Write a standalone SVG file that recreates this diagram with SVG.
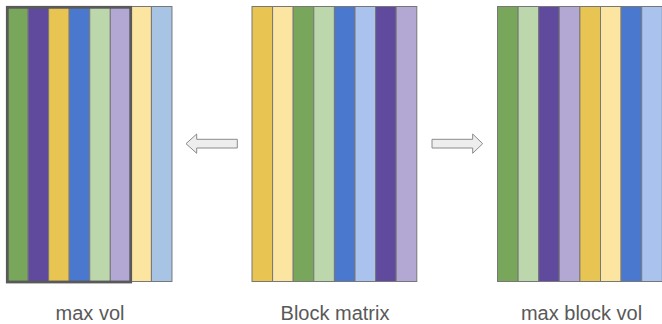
<svg xmlns="http://www.w3.org/2000/svg" width="662" height="324" viewBox="0 0 662 324">
<style>
.c{stroke:#777;stroke-width:1}
.g{fill:#78a65b}.lg{fill:#bdd7ac}.p{fill:#604a9e}.lp{fill:#b3a7d4}
.y{fill:#e8c452}.ly{fill:#fbe5a0}.b{fill:#4b78cf}.lb{fill:#aac2ee}.lb2{fill:#a8c4e4}
.arr{fill:#eeeeee;stroke:#8a8a8a;stroke-width:1}
.lbl{font-family:"Liberation Sans",Arial,sans-serif;font-size:20px;fill:#595959;text-anchor:middle}
</style>
<g id="max-vol">
<rect class="c g" x="7.5" y="6.5" width="20.56" height="275"/>
<rect class="c p" x="28.06" y="6.5" width="20.56" height="275"/>
<rect class="c y" x="48.62" y="6.5" width="20.56" height="275"/>
<rect class="c b" x="69.18" y="6.5" width="20.56" height="275"/>
<rect class="c lg" x="89.74" y="6.5" width="20.56" height="275"/>
<rect class="c lp" x="110.3" y="6.5" width="20.56" height="275"/>
<rect class="c ly" x="130.86" y="6.5" width="20.56" height="275"/>
<rect class="c lb2" x="151.42" y="6.5" width="20.56" height="275"/>
<rect x="7.3" y="7.3" width="123.4" height="274.7" fill="none" stroke="#595959" stroke-width="2.8"/>
<text class="lbl" x="90" y="319.5">max vol</text>
</g>
<g id="block-matrix">
<rect class="c y" x="252" y="6.5" width="20.6" height="275"/>
<rect class="c ly" x="272.6" y="6.5" width="20.6" height="275"/>
<rect class="c g" x="293.2" y="6.5" width="20.6" height="275"/>
<rect class="c lg" x="313.8" y="6.5" width="20.6" height="275"/>
<rect class="c b" x="334.4" y="6.5" width="20.6" height="275"/>
<rect class="c lb" x="355" y="6.5" width="20.6" height="275"/>
<rect class="c p" x="375.6" y="6.5" width="20.6" height="275"/>
<rect class="c lp" x="396.2" y="6.5" width="20.6" height="275"/>
<text class="lbl" x="335" y="319.5">Block matrix</text>
</g>
<g id="max-block-vol">
<rect class="c g" x="497.5" y="6.5" width="20.6" height="275"/>
<rect class="c lg" x="518.1" y="6.5" width="20.6" height="275"/>
<rect class="c p" x="538.7" y="6.5" width="20.6" height="275"/>
<rect class="c lp" x="559.3" y="6.5" width="20.6" height="275"/>
<rect class="c y" x="579.9" y="6.5" width="20.6" height="275"/>
<rect class="c ly" x="600.5" y="6.5" width="20.6" height="275"/>
<rect class="c b" x="621.1" y="6.5" width="20.6" height="275"/>
<rect class="c lb" x="641.7" y="6.5" width="20.6" height="275"/>
<text class="lbl" x="581.5" y="319.5">max block vol</text>
</g>
<g id="connectors">
<polygon class="arr" points="186,143.7 196.7,134 196.7,139.3 237.3,139.3 237.3,148 196.7,148 196.7,153.3"/>
<polygon class="arr" points="482.7,143.7 472.7,134 472.7,139.3 432,139.3 432,148 472.7,148 472.7,153.3"/>
</g>
</svg>
